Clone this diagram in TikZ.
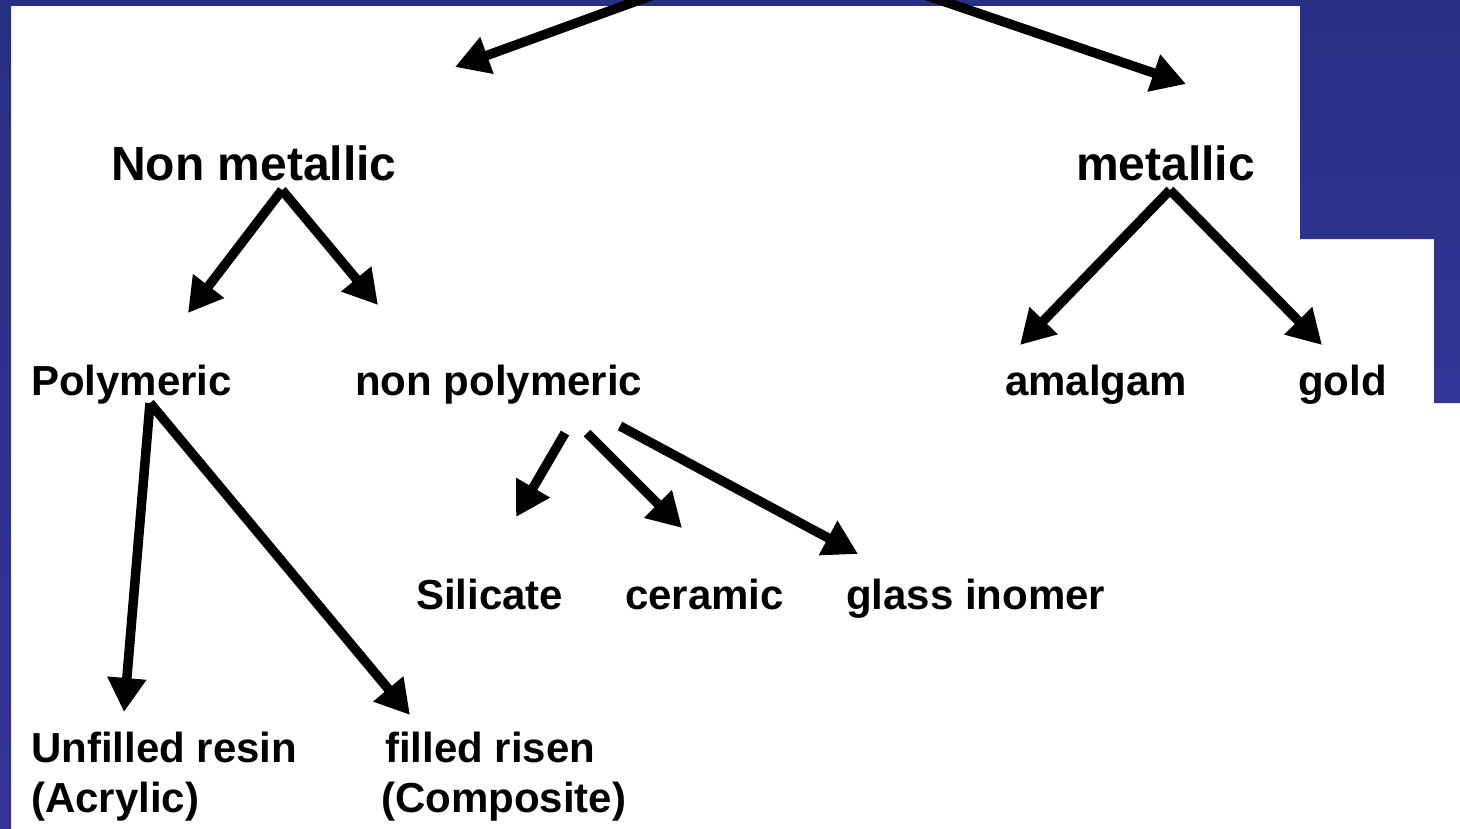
\documentclass[tikz,border=0pt]{standalone}
\usepackage{fontspec}
\setmainfont{Liberation Sans}
\usetikzlibrary{arrows.meta}
\definecolor{bgtop}{HTML}{283083}
\definecolor{bgmid}{HTML}{2E3290}
\definecolor{bgbot}{HTML}{323596}
\tikzset{
  big/.style={anchor=base west,inner sep=0pt,font=\bfseries\fontsize{48}{48}\selectfont},
  lbl/.style={anchor=base west,inner sep=0pt,font=\bfseries\fontsize{42}{42}\selectfont},
  arr/.style={line width=9.5pt,-{Triangle[length=34pt,width=37pt]}}
}
\begin{document}
\begin{tikzpicture}[x=1pt,y=-1pt]
\useasboundingbox (0,0) rectangle (1460,828);
\clip (0,0) rectangle (1460,828);
\fill[white] (-5,-5) rectangle (1465,833);
% blue frame pieces
\fill[bgtop] (0,0) rectangle (1460,6);
\shade[top color=bgtop,bottom color=bgbot] (0,0) rectangle (11,828);
\shade[top color=bgtop,bottom color=bgbot] (1300,0) -- (1460,0) -- (1460,403) -- (1434,403) -- (1434,239) -- (1300,239) -- cycle;
% labels
\node[big] (nm) at (111,180) {Non metallic};
\node[big] (me) at (1076,180) {metallic};
\node[lbl] (po) at (31,395) {Polymeric};
\node[lbl] (np) at (355,395) {non polymeric};
\node[lbl] (am) at (1005,395) {amalgam};
\node[lbl] (go) at (1298,395) {gold};
\node[lbl] (si) at (416,609) {Silicate};
\node[lbl] (ce) at (625,609) {ceramic};
\node[lbl] (gl) at (846,609) {glass inomer};
\node[lbl] (un) at (31,762) {Unfilled resin};
\node[lbl] (ac) at (31,812) {(Acrylic)};
\node[lbl] (fi) at (385,762) {filled risen};
\node[lbl] (co) at (381,812) {(Composite)};
% connector points
\coordinate (r1) at (656,-6);
\coordinate (t1) at (455,67);
\coordinate (r2) at (922,-6);
\coordinate (t2) at (1186,84);
\coordinate (nmS) at (282,190);
\coordinate (tpo) at (188,313);
\coordinate (tnp) at (378,305);
\coordinate (meS) at (1170,190);
\coordinate (tam) at (1020,345);
\coordinate (tgo) at (1322,345);
\coordinate (poS) at (150,403);
\coordinate (tun) at (124,712);
\coordinate (tfi) at (410,715);
\coordinate (npS1) at (565,433);
\coordinate (tsi) at (516,517);
\coordinate (npS2) at (587,433);
\coordinate (tce) at (682,528);
\coordinate (npS3) at (620,426);
\coordinate (tgl) at (858,554);
\draw[arr] (r1) -- (t1);
\draw[arr] (r2) -- (t2);
\draw[arr] (nmS) -- (tpo);
\draw[arr] (nmS) -- (tnp);
\draw[arr] (meS) -- (tam);
\draw[arr] (meS) -- (tgo);
\draw[arr] (poS) -- (tun);
\draw[arr] (poS) -- (tfi);
\draw[arr] (npS1) -- (tsi);
\draw[arr] (npS2) -- (tce);
\draw[arr] (npS3) -- (tgl);
\end{tikzpicture}
\end{document}
